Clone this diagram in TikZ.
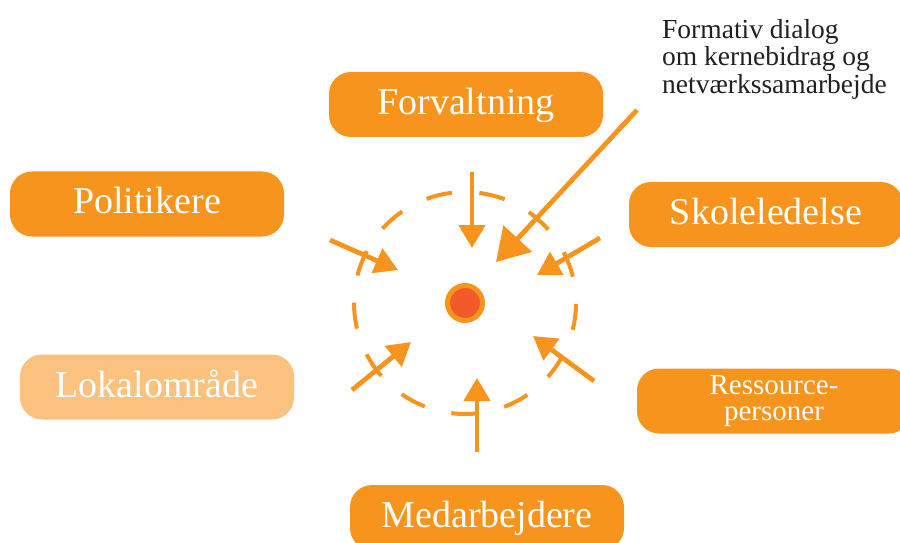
\documentclass[tikz,border=0pt]{standalone}
\usepackage{fontspec}
\setmainfont{Liberation Serif}
\usetikzlibrary{arrows.meta}
\definecolor{orng}{HTML}{F7941D}
\definecolor{lightorng}{HTML}{FBC17F}
\definecolor{dotred}{HTML}{F15A29}
\definecolor{txtgray}{HTML}{231F20}
\begin{document}
\begin{tikzpicture}[x=1pt,y=1pt,
  pill/.style={fill=orng, rounded corners=22pt, minimum width=274pt, minimum height=65pt,
    inner sep=0pt, text=white, font=\fontsize{38}{40}\selectfont, text height=25pt, text depth=5pt},
  lightpill/.style={pill, fill=lightorng},
  ring/.style={draw=orng, line width=4pt},
  inarrow/.style={draw=orng, line width=4.8pt, -{Triangle[length=23pt,width=26pt]}},
  bigarrow/.style={draw=orng, line width=4.8pt, -{Triangle[length=32pt,width=38pt]}}]
\useasboundingbox (0,0) rectangle (900,542);
\clip (0,0) rectangle (900,542);

% boxes
\node[pill] (forv) at (466,437.5) {Forvaltning};
\node[pill] (poli) at (147,338) {Politikere};
\node[pill] (skole) at (766,327.5) {Skoleledelse};
\node[lightpill] (lokal) at (157,155) {Lokalområde};
\node[pill] (ress) at (774,141) {};
\node[text=white, align=center, inner sep=0pt, font=\fontsize{29}{26}\selectfont] (resstxt) at (ress.center) {Ressource-\\personer};
\node[pill] (medarb) at (487,24.5) {Medarbejdere};

% annotation
\node[anchor=north west, align=left, inner sep=0pt, text=txtgray,
  font=\fontsize{27.5}{27.5}\selectfont] (note) at (662,523) {Formativ dialog\\om kernebidrag og\\netværkssamarbejde};

% dashed circle
\coordinate (C) at (465,239);
\foreach \k in {0,...,12} {
  \pgfmathsetmacro{\a}{-14+27.692*\k}
  \draw[ring] ([shift={(\a:111)}]C) arc[start angle=\a, delta angle=13.5, radius=111];
}

% centre dot
\node[circle, fill=dotred, draw=orng, line width=5pt, minimum size=35pt, inner sep=0pt] (dot) at (C) {};

% arrows
\coordinate (a1s) at (472,370); \coordinate (a1e) at (472,294);
\coordinate (a2s) at (637,432); \coordinate (a2e) at (496,280);
\coordinate (a3s) at (330,302); \coordinate (a3e) at (398,272);
\coordinate (a4s) at (600,304); \coordinate (a4e) at (537,267);
\coordinate (a5s) at (352,152); \coordinate (a5e) at (411,200);
\coordinate (a6s) at (594,161); \coordinate (a6e) at (533,206);
\coordinate (a7s) at (477,90);  \coordinate (a7e) at (477,164);
\draw[inarrow] (a1s) -- (a1e);
\draw[bigarrow] (a2s) -- (a2e);
\draw[inarrow] (a3s) -- (a3e);
\draw[inarrow] (a4s) -- (a4e);
\draw[inarrow] (a5s) -- (a5e);
\draw[inarrow] (a6s) -- (a6e);
\draw[inarrow] (a7s) -- (a7e);
\end{tikzpicture}
\end{document}
